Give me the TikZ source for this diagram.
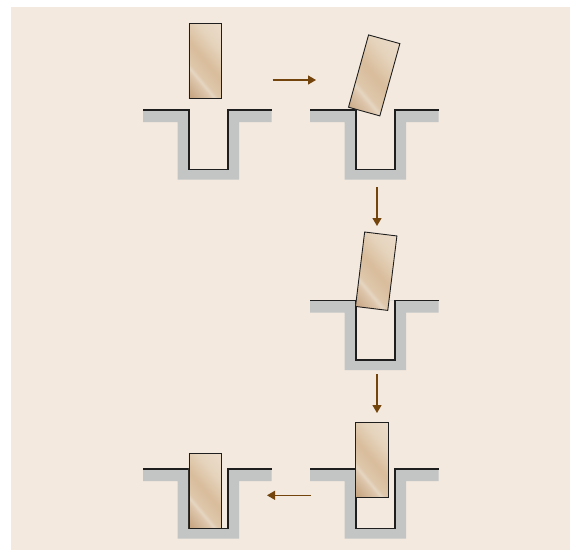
\documentclass[tikz,border=0pt]{standalone}
\usepackage{amsmath,amssymb}
\usetikzlibrary{arrows.meta}
\definecolor{figBg}{RGB}{243,233,223}
\definecolor{figGray}{RGB}{194,197,196}
\definecolor{figBrown}{RGB}{115,68,12}
\definecolor{figLine}{RGB}{30,30,30}
\pgfdeclarehorizontalshading{blockshade}{100bp}{
  rgb(0bp)=(0.78,0.65,0.51);
  rgb(17bp)=(0.78,0.65,0.51);
  rgb(31bp)=(0.87,0.78,0.68);
  rgb(33.8bp)=(0.90,0.84,0.76);
  rgb(37bp)=(0.87,0.78,0.67);
  rgb(50bp)=(0.85,0.74,0.61);
  rgb(67bp)=(0.90,0.83,0.74);
  rgb(83bp)=(0.92,0.86,0.79);
  rgb(100bp)=(0.92,0.86,0.79)}
\tikzset{
  blockbox/.style={draw=figLine,line width=0.9pt,minimum width=32.5pt,minimum height=75pt,
    inner sep=0pt,outer sep=0pt,shading=blockshade,shading angle=40},
  flowarrow/.style={-{Triangle[length=8pt,width=9pt]},line width=1.2pt,figBrown},
}
\begin{document}
\begin{tikzpicture}[x=1pt,y=-1pt]
\useasboundingbox (0,0) rectangle (570,550);
\fill[figBg] (11,7) rectangle (570,550);
% grooves
\foreach \gx/\gy in {143/110,310/110,310/300.5,143/469,310/469}{
  \begin{scope}[shift={(\gx,\gy)}]
  \fill[figGray] (0,0)--(128.5,0)--(128.5,12)--(96,12)--(96,69.5)--(34.5,69.5)--(34.5,12)--(0,12)--cycle;
  \fill[figBg] (46,0) rectangle (85,59.5);
  \draw[figLine,line width=1.1pt] (0,0)--(46,0)--(46,59.5)--(85,59.5)--(85,0)--(128.5,0);
  \end{scope}
}
% blocks
\node[blockbox] (blocka) at (205.2,60.8) {};
\node[blockbox,rotate=-15.5] (blockb) at (374.2,75.4) {};
\node[blockbox,rotate=-7] (blockc) at (376.2,271.2) {};
\node[blockbox] (blockd) at (372,459.5) {};
\node[blockbox] (blocke) at (205.2,490.8) {};
% arrows
\coordinate (arrowas) at (272.5,80);
\coordinate (arrowae) at (316,80);
\coordinate (arrowbs) at (377,187);
\coordinate (arrowbe) at (377,226);
\coordinate (arrowcs) at (377,374);
\coordinate (arrowce) at (377,413);
\coordinate (arrowds) at (310.5,495.3);
\coordinate (arrowde) at (267,495.3);
\draw[flowarrow] (arrowas)--(arrowae);
\draw[flowarrow] (arrowbs)--(arrowbe);
\draw[flowarrow] (arrowcs)--(arrowce);
\draw[flowarrow] (arrowds)--(arrowde);
\end{tikzpicture}
\end{document}
